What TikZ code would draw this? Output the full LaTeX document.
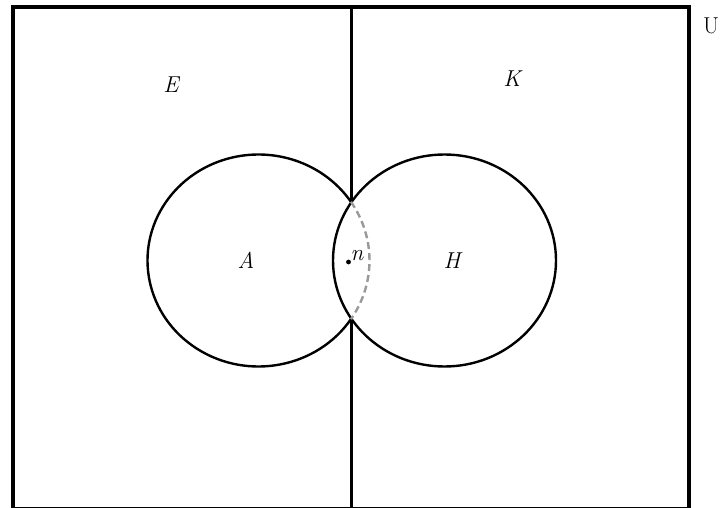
\documentclass[tikz,border=0pt]{standalone}
\usepackage{fontspec}
\begin{document}
\begin{tikzpicture}[x=1pt,y=-1pt,
  lbl/.style={inner sep=0pt,font=\fontsize{23}{27}\selectfont},
  setline/.style={line width=2.4pt,black},
  dashline/.style={line width=2.4pt,gray!80,dash pattern=on 7pt off 4pt}]
\useasboundingbox (0,0) rectangle (722,508);
% universe box
\draw[line width=4pt] (13,7) rectangle (689,508.8);
\coordinate (vt) at (351,7);
\coordinate (vb) at (351,508.8);
\coordinate (it) at (351,202.2);
\coordinate (ib) at (351,318.8);
\draw[line width=3pt] (vt) -- (it);
\draw[line width=3pt] (ib) -- (vb);
% circles
\coordinate (ca) at (258.5,260.5);
\coordinate (ch) at (444.5,260.5);
\draw[setline] (ch) ellipse [x radius=111.5, y radius=106];
\draw[setline] ([shift={(33.6:111 and 106)}]ca) arc [start angle=33.6, end angle=326.4, x radius=111, y radius=106];
\draw[dashline] ([shift={(-33.6:111 and 106)}]ca) arc [start angle=-33.6, end angle=33.6, x radius=111, y radius=106];
% labels
\node[lbl] (E) at (171,85) {\itshape E};
\node[lbl] (K) at (512,79) {\itshape K};
\node[lbl] (A) at (246,260) {\itshape A};
\node[lbl] (H) at (452,261) {\itshape H};
\node[lbl] (U) at (711,26) {U};
\fill (348.5,262) circle (2.4);
\node[lbl,anchor=south west] (n) at (350.5,261) {\itshape n};
\end{tikzpicture}
\end{document}
